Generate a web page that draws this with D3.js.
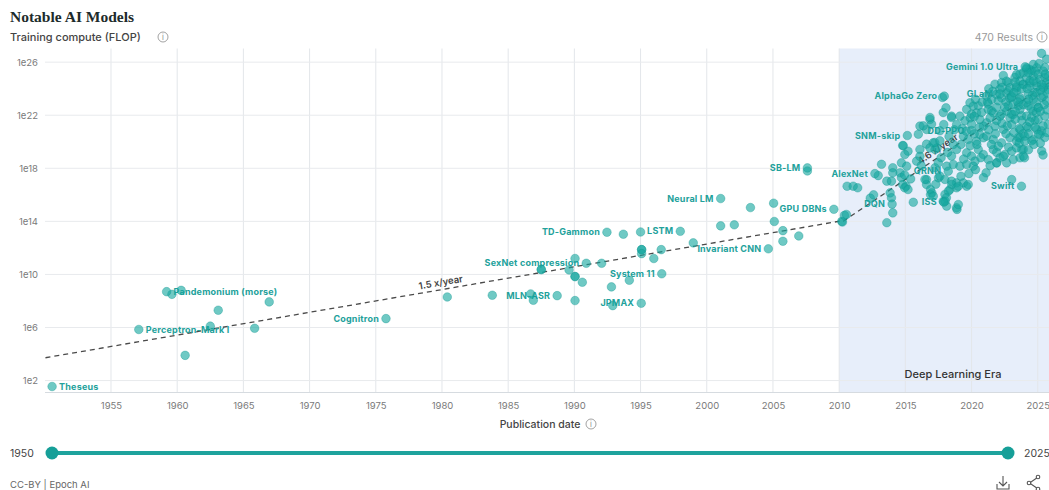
<!DOCTYPE html>
<html>
<head>
<meta charset="utf-8">
<script src="https://cdn.jsdelivr.net/npm/d3@7"></script>
<style>
  html, body { margin: 0; padding: 0; background: #fff; }
  svg { display: block; font-family: Inter, "Open Sans", "DejaVu Sans", sans-serif; }
</style>
</head>
<body>
<svg id="chart" width="1049" height="490"></svg>
<script>
// ---- data: [publication year, log10(training compute in FLOP)] ----
const yearTicks = [1955, 1960, 1965, 1970, 1975, 1980, 1985, 1990, 1995, 2000, 2005, 2010, 2015, 2020, 2025];
const flopTicks = [1e2, 1e6, 1e10, 1e14, 1e18, 1e22, 1e26];
const eraStart = 2010;

// named models: [name, year, log10 FLOP, label side]
const notableModels = [
  ["Theseus", 1950.55, 1.55, "right"],
  ["Perceptron-Mark I", 1957.1, 5.85, "right"],
  ["Pandemonium (morse)", 1959.2, 8.7, "right"],
  ["Cognitron", 1975.77, 6.67, "left"],
  ["MLN-ASR", 1988.7, 8.4, "left"],
  ["SexNet compression", 1990.9, 10.84, "left"],
  ["TD-Gammon", 1992.46, 13.18, "left"],
  ["JPMAX", 1995.05, 7.83, "left"],
  ["System 11", 1996.6, 10.05, "left"],
  ["LSTM", 1998.0, 13.25, "left"],
  ["Neural LM", 2001.05, 15.72, "left"],
  ["Invariant CNN", 2004.65, 11.93, "left"],
  ["SB-LM", 2007.6, 18.03, "left"],
  ["GPU DBNs", 2009.6, 14.91, "left"],
  ["AlexNet", 2012.7, 17.6, "left"],
  ["DQN", 2014.0, 15.3, "left"],
  ["SNM-skip", 2015.15, 20.47, "left"],
  ["ISS", 2017.9, 15.45, "left"],
  ["AlphaGo Zero", 2017.94, 23.44, "left"],
  ["QRNN", 2018.24, 17.78, "left"],
  ["DD-PPO", 2020.0, 20.85, "left"],
  ["GLaM", 2022.15, 23.6, "left"],
  ["Swift", 2023.77, 16.65, "left"],
  ["Gemini 1.0 Ultra", 2024.05, 25.65, "left"]
];

const earlyModels = [
  [1959.6, 8.5], [1960.3, 8.8], [1960.6, 3.9], [1962.5, 6.1], [1963.1, 7.3], [1965.85, 5.94], [1966.95, 7.93],
  [1980.4, 8.3], [1983.8, 8.43], [1986.7, 8.53], [1986.9, 8.05], [1987.5, 10.37], [1987.5, 10.37], [1989.6, 10.34],
  [1990.05, 11.2], [1990.05, 9.84], [1990.05, 9.84], [1990.05, 8.03], [1990.6, 9.41], [1992.06, 10.84], [1992.8, 9.06],
  [1992.9, 7.65], [1993.7, 13.03], [1994.15, 9.56], [1995.0, 13.2], [1995.08, 11.87], [1995.08, 11.87], [1995.08, 11.57],
  [1996.0, 11.2], [1996.56, 11.87], [1998.98, 12.38], [2001.05, 13.66], [2002.08, 13.74], [2003.3, 15.04],
  [2005.05, 15.37], [2005.1, 13.99], [2005.75, 13.3], [2005.75, 12.5], [2006.95, 12.9], [2007.6, 17.8]
];

const deepLearningModels = [
  [2010.2, 14.0], [2010.25, 13.95], [2010.4, 14.45], [2010.55, 14.52], [2010.6, 16.65], [2011.06, 16.65], [2011.4, 16.53],
  [2012.35, 15.75], [2012.6, 16.0], [2012.95, 17.45], [2013.2, 18.3], [2013.6, 17.03], [2013.95, 17.03], [2013.6, 13.9],
  [2013.85, 16.15], [2013.95, 15.78],
  [2014.05, 14.64], [2014.05, 18.04], [2014.7, 18.41], [2014.6, 17.66], [2014.05, 17.66], [2014.7, 17.3], [2014.95, 17.5],
  [2015.1, 18.16], [2014.8, 16.78], [2015.05, 16.65], [2014.95, 16.53], [2015.2, 16.4], [2015.6, 15.44], [2014.8, 19.72],
  [2015.2, 19.29], [2014.96, 19.04], [2014.84, 19.7], [2015.85, 18.54], [2015.98, 20.57], [2015.4, 17.2],
  [2016.1, 19.42], [2016.1, 18.9], [2016.6, 19.82], [2016.86, 19.54], [2017.24, 19.42], [2017.1, 19.92], [2017.4, 19.54],
  [2017.23, 19.95], [2017.61, 20.07], [2017.61, 20.83], [2016.6, 20.93], [2016.86, 21.68], [2016.1, 21.18], [2016.35, 21.2],
  [2016.98, 21.33], [2016.86, 21.83], [2017.86, 22.2], [2016.6, 17.15], [2016.6, 16.78], [2016.48, 17.16], [2017.0, 16.15],
  [2016.9, 16.02], [2016.9, 16.4], [2017.11, 15.9], [2017.5, 17.28], [2017.24, 18.04], [2017.49, 18.41], [2017.61, 17.41],
  [2017.81, 23.34], [2017.86, 15.52], [2016.2, 18.2], [2017.3, 16.8], [2017.7, 18.8], [2017.9, 21.3],
  [2018.07, 22.56], [2018.49, 21.93], [2018.87, 21.3], [2018.49, 21.83], [2018.49, 18.92], [2018.87, 19.42], [2018.62, 19.8],
  [2018.12, 18.16], [2018.62, 18.29], [2017.99, 17.16], [2018.49, 17.03], [2018.87, 16.9], [2017.99, 16.03], [2018.37, 16.4],
  [2018.87, 16.53], [2018.12, 15.15], [2018.87, 15.02], [2018.5, 16.78], [2018.25, 16.28], [2018.1, 15.78], [2018.0, 15.52],
  [2018.9, 14.9], [2018.3, 20.4], [2018.7, 20.9], [2018.2, 19.2],
  [2019.12, 21.93], [2019.63, 22.44], [2019.88, 22.94], [2019.5, 21.58], [2019.38, 20.42], [2019.75, 20.17], [2019.63, 19.17],
  [2019.12, 18.16], [2019.63, 18.29], [2019.63, 16.65], [2019.38, 16.9], [2019.0, 15.27], [2019.0, 16.65], [2019.75, 16.78],
  [2019.3, 21.0], [2019.9, 21.8], [2019.6, 20.8], [2019.2, 19.8], [2019.9, 19.7], [2019.4, 18.7], [2019.8, 17.6], [2019.2, 17.4],
  [2020.13, 22.69], [2020.38, 22.18], [2020.63, 21.68], [2020.89, 21.18], [2020.0, 22.08], [2020.51, 22.71], [2020.76, 22.21],
  [2020.0, 21.33], [2020.38, 20.05], [2020.63, 20.55], [2020.0, 18.92], [2020.26, 18.54], [2020.51, 19.42], [2020.89, 19.04],
  [2020.13, 18.16], [2020.3, 23.2], [2020.8, 23.0], [2020.2, 21.9], [2020.6, 21.1], [2020.2, 20.6], [2020.9, 20.3],
  [2020.4, 19.8], [2020.7, 18.8], [2020.3, 17.9], [2020.9, 17.3],
  [2021.14, 23.44], [2021.52, 23.19], [2021.89, 23.57], [2021.26, 22.84], [2021.51, 22.33], [2021.26, 22.44], [2021.64, 22.18],
  [2021.77, 24.34], [2021.14, 21.43], [2021.77, 21.18], [2021.14, 20.42], [2021.64, 20.17], [2021.26, 18.66], [2021.64, 19.42],
  [2021.89, 18.41], [2021.1, 17.66], [2021.9, 18.41], [2021.3, 24.0], [2021.6, 23.8], [2021.2, 23.0], [2021.9, 22.6],
  [2021.4, 21.8], [2021.9, 21.6], [2021.3, 20.9], [2021.8, 20.6], [2021.5, 19.8], [2021.9, 19.2], [2021.4, 18.2],
  [2022.27, 23.31], [2022.65, 23.69], [2022.02, 23.09], [2022.14, 23.97], [2022.27, 24.47], [2022.77, 24.47], [2022.77, 23.84],
  [2022.65, 24.57], [2022.9, 24.07], [2022.15, 21.93], [2022.65, 22.31], [2022.27, 22.08], [2022.77, 22.71], [2022.4, 20.93],
  [2022.27, 19.92], [2022.9, 20.3], [2022.02, 19.67], [2022.15, 18.79], [2022.52, 19.04], [2022.65, 18.41],
  [2022.4, 25.0], [2022.3, 24.1], [2022.6, 23.0], [2022.9, 23.3], [2022.5, 22.6], [2022.9, 21.8], [2022.3, 21.4],
  [2022.7, 21.2], [2022.6, 20.6], [2022.8, 19.6], [2022.4, 18.9],
  [2023.03, 23.44], [2023.4, 23.82], [2023.02, 23.34], [2023.65, 23.34], [2023.15, 22.81], [2023.66, 23.19], [2023.28, 24.85],
  [2023.65, 25.1], [2023.4, 25.07], [2023.91, 25.2], [2023.66, 24.57], [2023.4, 24.19], [2023.91, 24.32], [2023.4, 24.09],
  [2023.9, 24.34], [2023.15, 22.06], [2023.66, 22.44], [2023.02, 22.08], [2023.53, 22.71], [2023.78, 21.96], [2023.03, 21.3],
  [2023.66, 20.93], [2023.53, 20.32], [2023.4, 20.05], [2023.66, 20.3], [2023.03, 19.29], [2023.4, 19.54], [2023.91, 19.42],
  [2023.8, 19.42], [2023.15, 18.66], [2023.66, 18.79], [2023.91, 18.92], [2023.03, 17.15],
  [2023.3, 24.5], [2023.8, 24.0], [2023.2, 23.7], [2023.5, 23.0], [2023.9, 22.8],
  [2023.3, 22.3], [2023.8, 21.6], [2023.3, 21.7], [2023.6, 21.0], [2023.9, 20.6], [2023.2, 20.7], [2023.6, 19.9],
  [2024.16, 25.48], [2024.54, 25.35], [2024.41, 25.45], [2024.16, 25.58], [2024.66, 25.83], [2024.92, 25.58], [2024.16, 24.82],
  [2024.66, 24.95], [2024.41, 24.45], [2024.41, 24.6], [2024.91, 24.47], [2024.92, 24.19], [2024.28, 23.59], [2024.79, 23.72],
  [2024.92, 23.69], [2024.66, 23.19], [2024.16, 22.94], [2024.28, 22.71], [2024.16, 21.93], [2024.66, 22.31], [2024.54, 21.83],
  [2024.16, 21.18], [2024.28, 21.08], [2024.79, 21.58], [2024.92, 20.93], [2024.03, 20.42], [2024.66, 20.17], [2024.54, 20.07],
  [2024.03, 20.05], [2024.0, 18.79],
  [2024.3, 25.2], [2024.8, 25.3], [2024.4, 24.2], [2024.7, 24.6], [2024.2, 24.0], [2024.6, 23.5], [2024.3, 23.2],
  [2024.9, 23.0], [2024.5, 22.5], [2024.9, 22.2], [2024.4, 21.5], [2024.8, 21.1], [2024.3, 20.6], [2024.7, 19.8], [2024.3, 19.4],
  [2025.04, 25.1], [2025.54, 24.85], [2025.79, 24.34], [2025.42, 24.07], [2025.8, 23.94], [2025.42, 24.09], [2025.17, 24.7],
  [2025.67, 24.45], [2025.8, 24.95], [2025.42, 25.33], [2025.54, 25.6], [2025.67, 26.23], [2025.29, 26.66], [2025.29, 23.34],
  [2025.42, 23.44], [2025.67, 23.06], [2025.04, 22.59], [2025.04, 22.56], [2025.04, 21.68], [2025.54, 21.93], [2025.79, 21.33],
  [2025.29, 20.82], [2025.17, 20.55], [2025.04, 20.57], [2025.54, 20.32], [2025.3, 19.3],
  [2025.1, 25.9], [2025.6, 25.1], [2025.3, 24.3], [2025.7, 23.7], [2025.2, 23.9], [2025.5, 22.8], [2025.2, 22.3],
  [2025.7, 22.4], [2025.4, 21.2], [2025.7, 20.7], [2025.2, 19.9], [2025.4, 19.0]
];

// fitted growth trends: [year, log10 FLOP] end points
const trendEarly = [[1950.05, 3.72], [2010.3, 14.06]];
const trendDeep = [[2010.3, 14.0], [2025.85, 24.45]];
const trendLabels = ["1.5 x/year", "4.6 x/year"];
const trendLabelYears = [1980.0, 2017.75];

// ---- layout ----
const W = 1049, H = 490;
const plotTop = 48.5, plotBottom = 392.5, plotLeft = 45;
const svg = d3.select("#chart");

const x = d3.scaleLinear().domain([1950, 2025.85]).range([44.8, W]);
const y = d3.scaleLog().domain([Math.pow(10, 1.1), Math.pow(10, 27.03)]).range([plotBottom, plotTop]);
const px = d => x(d[0]);
const py = d => y(Math.pow(10, d[1]));

const teal = "#169f98";

// title block
svg.append("text").attr("x", 10).attr("y", 22)
  .style("font-family", "'Liberation Serif', 'DejaVu Serif', serif")
  .style("font-weight", 700).style("font-size", "15.5px").attr("fill", "#1d2b2b")
  .text("Notable AI Models");

function infoIcon(cx, cy) {
  const g = svg.append("g").attr("transform", `translate(${cx},${cy})`);
  g.append("circle").attr("r", 5).attr("fill", "none").attr("stroke", "#8a8a8a").attr("stroke-width", 0.8);
  g.append("text").attr("y", 3).attr("text-anchor", "middle").style("font-size", "7.5px")
    .attr("fill", "#8a8a8a").text("i");
}

svg.append("text").attr("x", 10).attr("y", 41)
  .style("font-size", "11px").style("font-weight", 500).attr("fill", "#444").text("Training compute (FLOP)");
infoIcon(163, 37);

svg.append("text").attr("x", 1033).attr("y", 41).attr("text-anchor", "end")
  .style("font-size", "10.5px").attr("fill", "#9a9a9a").text("470 Results");
infoIcon(1042, 37);

// deep learning era shading
svg.append("rect")
  .attr("x", x(eraStart)).attr("y", plotTop)
  .attr("width", W - x(eraStart)).attr("height", plotBottom - plotTop)
  .attr("fill", "#e7eefa");

// grid
const grid = svg.append("g");
grid.selectAll("line.v").data(yearTicks).join("line")
  .attr("x1", d => x(d)).attr("x2", d => x(d))
  .attr("y1", plotTop).attr("y2", plotBottom)
  .attr("stroke", "#e3e6ea").attr("stroke-width", 1);
grid.selectAll("line.h").data(flopTicks).join("line")
  .attr("x1", plotLeft).attr("x2", W)
  .attr("y1", d => y(d)).attr("y2", d => y(d))
  .attr("stroke", "#e8eaed").attr("stroke-width", 1);
grid.append("line").attr("x1", plotLeft).attr("x2", W).attr("y1", plotBottom).attr("y2", plotBottom)
  .attr("stroke", "#d6dbe0");

svg.append("text").attr("x", x(2018.6)).attr("y", 378).attr("text-anchor", "middle")
  .style("font-size", "11px").style("font-weight", 500).attr("fill", "#333").text("Deep Learning Era");

// axes
const xAxis = svg.append("g").attr("transform", `translate(0,${plotBottom})`)
  .call(d3.axisBottom(x).tickValues(yearTicks).tickFormat(d3.format("d")).tickSize(0).tickPadding(10));
const yAxis = svg.append("g").attr("transform", `translate(${plotLeft},0)`)
  .call(d3.axisLeft(y).tickValues(flopTicks).tickFormat(d => "1e" + Math.round(Math.log10(d))).tickSize(0).tickPadding(7));
[xAxis, yAxis].forEach(a => {
  a.select(".domain").remove();
  a.selectAll("text").style("font-size", "9.5px").style("font-family", "Inter, 'Open Sans', sans-serif").attr("fill", "#7a7a7a");
});

svg.append("text").attr("x", 540).attr("y", 428).attr("text-anchor", "middle")
  .style("font-size", "10.5px").style("font-weight", 500).attr("fill", "#444").text("Publication date");
infoIcon(591, 424);

// trend lines
const line = d3.line().x(px).y(py);
[trendEarly, trendDeep].forEach((t, i) => {
  svg.append("path").attr("d", line(t)).attr("fill", "none")
    .attr("stroke", "#4a4a4a").attr("stroke-width", 1.3).attr("stroke-dasharray", "5,4");
  const a = t[0], b = t[1];
  const yr = trendLabelYears[i];
  const f = (yr - a[0]) / (b[0] - a[0]);
  const pos = [yr, a[1] + f * (b[1] - a[1])];
  const ang = Math.atan2(py(b) - py(a), px(b) - px(a)) * 180 / Math.PI;
  svg.append("text")
    .attr("transform", `translate(${px(pos)},${py(pos)}) rotate(${ang})`)
    .attr("y", -4).attr("text-anchor", "middle")
    .style("font-size", "9.5px").style("font-weight", 600).attr("fill", "#444")
    .text(trendLabels[i]);
});

// model name labels
svg.append("g").selectAll("text").data(notableModels).join("text")
  .attr("x", d => d[3] === "right" ? x(d[1]) + 7 : x(d[1]) - 7)
  .attr("y", d => y(Math.pow(10, d[2])))
  .attr("dy", "0.35em")
  .attr("text-anchor", d => d[3] === "right" ? "start" : "end")
  .style("font-size", "9px").style("font-weight", 700).style("letter-spacing", "0.2px")
  .attr("fill", "#22a19b")
  .text(d => d[0]);

// model points
const allPoints = earlyModels.concat(deepLearningModels, notableModels.map(d => [d[1], d[2]]));
svg.append("g").selectAll("circle").data(allPoints).join("circle")
  .attr("cx", px).attr("cy", py).attr("r", 4.3)
  .attr("fill", "#17a8a0").attr("fill-opacity", 0.62)
  .attr("stroke", "#0f958e").attr("stroke-opacity", 0.5).attr("stroke-width", 0.7);

// year range slider
const sliderY = 453;
svg.append("line").attr("x1", 52).attr("x2", 1008).attr("y1", sliderY).attr("y2", sliderY)
  .attr("stroke", "#1ea39d").attr("stroke-width", 4);
[52, 1008].forEach(cx => svg.append("circle").attr("cx", cx).attr("cy", sliderY).attr("r", 6.5).attr("fill", teal));
svg.append("text").attr("x", 10).attr("y", 457).style("font-size", "10.5px").attr("fill", "#444").text("1950");
svg.append("text").attr("x", 1024).attr("y", 457).style("font-size", "10.5px").attr("fill", "#444").text("2025");

// footer
svg.append("text").attr("x", 10).attr("y", 488).style("font-size", "9.5px").attr("fill", "#666").text("CC-BY | Epoch AI");

const dl = svg.append("g").attr("fill", "none").attr("stroke", "#555").attr("stroke-width", 1.1);
dl.append("path").attr("d", "M1003,476 V486 M999,482 L1003,486 L1007,482 M997,484 V489 H1009 V484");
const sh = svg.append("g").attr("fill", "none").attr("stroke", "#555").attr("stroke-width", 1.1);
sh.append("path").attr("d", "M1037.5,477.5 L1029.5,483 L1037.5,488.5");
[[1038, 477], [1029, 483], [1038, 489]].forEach(c => sh.append("circle").attr("cx", c[0]).attr("cy", c[1]).attr("r", 1.8).attr("fill", "#fff"));
</script>
</body>
</html>
